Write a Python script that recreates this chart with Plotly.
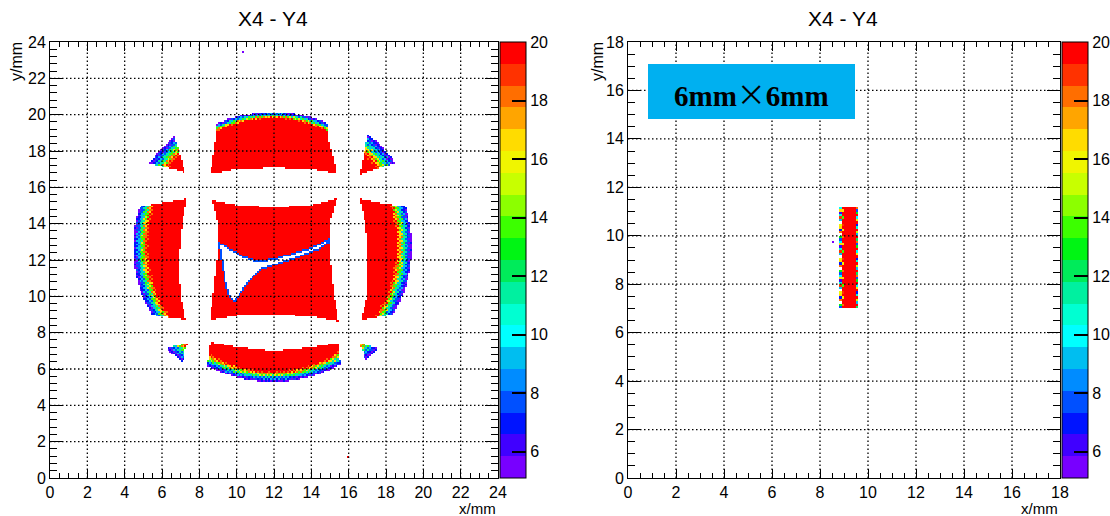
import numpy as np
import plotly.graph_objects as go

W, H = 1110, 516

# ---------------------------------------------------------------- left panel data
LEFT_RANGE = (0.0, 24.0)
LEFT_BIN = 0.1
LEFT_TICKS = [0, 2, 4, 6, 8, 10, 12, 14, 16, 18, 20, 22, 24]

# beam envelope (mm): red core ellipse and outer reach of the speckled fringe
CORE_CENTER = (11.9, 12.83)
CORE_SEMI = (6.64, 6.94)
HALO_CENTER = (11.92, 12.72)
HALO_SEMI = (7.47, 7.42)
FRINGE_LEVELS = [20.0, 18.5, 16.5, 14.0, 11.5, 9.5, 8.0, 6.8, 5.8]
DITHER = [[0, 8, 2, 10], [12, 4, 14, 6], [3, 11, 1, 9], [15, 7, 13, 5]]  # ordered speckle
DITHER_SPREAD = 3.0

# column boundaries x(y): right edge of left column (L1), edges of centre column (L2, L3),
# left edge of right column (L4)
COL_Y = [5.0, 7.0, 7.45, 8.1, 8.7, 10.0, 12.0, 13.0, 14.0, 15.35, 16.05, 16.8, 18.5, 20.0]
COL_L1 = [7.0, 7.2, 7.4, 7.35, 7.28, 6.98, 6.9, 6.98, 7.08, 7.33, 7.3, 7.25, 6.75, 6.4]
COL_L2 = [8.3, 8.5, 8.57, 8.56, 8.55, 8.73, 8.95, 9.03, 9.0, 8.7, 8.63, 8.6, 8.85, 9.0]
COL_L3 = [15.7, 15.5, 15.49, 15.47, 15.45, 15.22, 15.02, 15.02, 14.95, 15.37, 15.37, 15.36, 14.95, 14.8]
COL_L4 = [17.3, 16.75, 16.55, 16.6, 16.65, 17.0, 17.05, 17.0, 16.9, 16.6, 16.6, 16.6, 16.95, 17.3]

# row boundaries y(x): bottom of top row (T1), edges of middle row (T2, T3), top of bottom row (T4)
ROW_X = [4.0, 5.7, 7.3, 7.95, 8.6, 10.0, 12.0, 14.0, 15.4, 16.0, 16.6, 18.0, 20.0]
ROW_T1 = [17.6, 17.23, 16.81, 16.78, 16.75, 17.0, 17.07, 17.0, 16.77, 16.75, 16.72, 17.2, 17.6]
ROW_T2 = [14.8, 15.1, 15.36, 15.33, 15.3, 15.03, 14.9, 15.03, 15.39, 15.37, 15.36, 15.1, 14.8]
ROW_T3 = [9.2, 8.95, 8.7, 8.7, 8.69, 8.95, 9.0, 8.91, 8.64, 8.66, 8.68, 8.95, 9.2]
ROW_T4 = [6.7, 7.0, 7.43, 7.46, 7.48, 7.22, 7.0, 7.2, 7.43, 7.43, 7.43, 7.0, 6.7]

# reach of the red core and of the fringe in each of the 3x3 cells (rows top->bottom)
CELL_CORE_SCALE = [[1.03, 1.0, 1.03],
                   [1.0, 1.0, 1.0],
                   [1.04, 1.0, 1.04]]
CELL_HALO_SCALE = [[1.08, 1.0, 1.08],
                   [1.0, 1.0, 1.0],
                   [1.07, 1.0, 1.07]]

# tear inside the central block (outer outline incl. its thin rim of low counts)
HOLE_X = [9.02, 9.64, 10.36, 11.0, 11.91, 12.91, 14.0, 14.82, 15.05, 15.09, 14.36, 13.27,
          12.18, 11.27, 10.73, 10.27, 9.91, 9.6, 9.36, 9.18, 9.05]
HOLE_Y = [13.0, 12.64, 12.22, 12.0, 12.07, 12.36, 12.69, 13.09, 13.36, 13.0, 12.55, 12.09,
          11.76, 11.45, 10.91, 10.18, 9.67, 9.91, 10.73, 11.82, 12.64]
HOLE_RIM_LEVEL = 7.6

LEFT_STRAY = [(15.97, 1.1, 20.0), (10.33, 23.45, 5.6)]

# ---------------------------------------------------------------- right panel data
RIGHT_RANGE = (0.0, 18.0)
RIGHT_BIN = 0.1
RIGHT_TICKS = [0, 2, 4, 6, 8, 10, 12, 14, 16, 18]
BAR_Y = (7.0, 11.2)
BAR_COLS = [8.85, 8.95, 9.05, 9.15, 9.25, 9.35, 9.45, 9.55]
BAR_OUTER_LEFT = [8, 13, None, 18, 7, 17, 16, None, 9, 19, 11, 6, 17, 10]
BAR_INNER_LEFT = [20, 18, 20, 20, 16, 20, 19, 20, 20, 14, 20, 20, 17, 20]
BAR_RIGHT = [12, 20, 9, 15, 20, 11, 7, 20, 16, 10, 20, 13, 8, 18]
RIGHT_STRAY = [(8.6, 9.75, 5.6)]

# ---------------------------------------------------------------- palette (20 contours)
ZMIN, ZMAX = 5.1, 20.0
PALETTE = ["#7800ff", "#4000ff", "#0014ff", "#0050ff", "#008cff", "#00bef0",
           "#00ffff", "#00ffd2", "#00f0a0", "#00eb5a", "#00f514", "#3cff00",
           "#8cff00", "#c8ff00", "#f0f500", "#ffdc00", "#ffa500", "#ff6e00",
           "#ff3200", "#ff0000"]
CBAR_TICKS = [6, 8, 10, 12, 14, 16, 18, 20]


def inside(px, py, vx, vy):
    res = np.zeros(px.shape, dtype=bool)
    n = len(vx)
    j = n - 1
    for i in range(n):
        xi, yi, xj, yj = vx[i], vy[i], vx[j], vy[j]
        cross = (yi > py) != (yj > py)
        xint = (xj - xi) * (py - yi) / ((yj - yi) if yj != yi else 1e-12) + xi
        res ^= cross & (px < xint)
        j = i
    return res


def erode(m):
    out = m.copy()
    for sh, ax in ((1, 0), (-1, 0), (1, 1), (-1, 1)):
        out &= np.roll(m, sh, axis=ax)
    return out


def left_grid():
    c = np.arange(LEFT_RANGE[0], LEFT_RANGE[1], LEFT_BIN) + LEFT_BIN / 2
    X, Y = np.meshgrid(c, c)
    l1 = np.interp(Y, COL_Y, COL_L1)
    l2 = np.interp(Y, COL_Y, COL_L2)
    l3 = np.interp(Y, COL_Y, COL_L3)
    l4 = np.interp(Y, COL_Y, COL_L4)
    t1 = np.interp(X, ROW_X, ROW_T1)
    t2 = np.interp(X, ROW_X, ROW_T2)
    t3 = np.interp(X, ROW_X, ROW_T3)
    t4 = np.interp(X, ROW_X, ROW_T4)
    col = np.full(X.shape, -1)
    col[X < l1] = 0
    col[(X > l2) & (X < l3)] = 1
    col[X > l4] = 2
    row = np.full(X.shape, -1)
    row[Y > t1] = 0
    row[(Y < t2) & (Y > t3)] = 1
    row[Y < t4] = 2
    valid = (col >= 0) & (row >= 0)
    cscale = np.array(CELL_CORE_SCALE)[row.clip(0), col.clip(0)]
    hscale = np.array(CELL_HALO_SCALE)[row.clip(0), col.clip(0)]
    rc = np.hypot((X - CORE_CENTER[0]) / (CORE_SEMI[0] * cscale),
                  (Y - CORE_CENTER[1]) / (CORE_SEMI[1] * cscale))
    rh = np.hypot((X - HALO_CENTER[0]) / (HALO_SEMI[0] * hscale),
                  (Y - HALO_CENTER[1]) / (HALO_SEMI[1] * hscale))
    z = np.full(X.shape, np.nan)
    core = valid & (rc <= 1)
    z[core] = 20.0
    fr = valid & (rc > 1) & (rh <= 1)
    u = (1 - 1 / rc[fr]) / np.maximum(1 / rh[fr] - 1 / rc[fr], 1e-6)
    n = len(FRINGE_LEVELS)
    ii, jj = np.nonzero(fr)
    d = np.array(DITHER, dtype=float)[ii % 4, jj % 4] / 16.0 - 0.5
    idx = np.clip(np.floor(u * n + d * DITHER_SPREAD).astype(int), 0, n - 1)
    z[fr] = np.array(FRINGE_LEVELS)[idx]
    mid = valid & (row == 1) & (col == 1)
    m0 = inside(X, Y, HOLE_X, HOLE_Y) & mid
    m1 = erode(m0)
    z[m0 & ~m1] = HOLE_RIM_LEVEL
    z[m1] = np.nan
    for sx, sy, sv in LEFT_STRAY:
        i = int((sy - LEFT_RANGE[0]) / LEFT_BIN)
        j = int((sx - LEFT_RANGE[0]) / LEFT_BIN)
        z[i, j] = sv
    return c, c, z


def right_grid():
    c = np.arange(RIGHT_RANGE[0], RIGHT_RANGE[1], RIGHT_BIN) + RIGHT_BIN / 2
    z = np.full((len(c), len(c)), np.nan)
    rows = [i for i, v in enumerate(c) if BAR_Y[0] < v < BAR_Y[1]]
    cols = [int(round((v - RIGHT_BIN / 2) / RIGHT_BIN)) for v in BAR_COLS]
    for k, i in enumerate(rows):
        a = BAR_OUTER_LEFT[k % len(BAR_OUTER_LEFT)]
        b = BAR_INNER_LEFT[k % len(BAR_INNER_LEFT)]
        r = BAR_RIGHT[k % len(BAR_RIGHT)]
        z[i, cols[0]] = np.nan if a is None else a
        z[i, cols[1]] = b
        for j in cols[2:-1]:
            z[i, j] = 20.0
        z[i, cols[-1]] = r
    for sx, sy, sv in RIGHT_STRAY:
        z[int(sy / RIGHT_BIN), int(sx / RIGHT_BIN)] = sv
    return c, c, z


def colorscale():
    n = len(PALETTE)
    cs = []
    for i, col in enumerate(PALETTE):
        cs.append([i / n, col])
        cs.append([(i + 1) / n, col])
    return cs


# ---------------------------------------------------------------- layout geometry (pixels)
FRAME_TOP, FRAME_BOT = 42, 478
PANELS = [
    dict(x0=50, x1=498, cb=500, xr=LEFT_RANGE, ticks=LEFT_TICKS, yminor=0.4, xa="x", ya="y",
         title_x=273, ylab_x=17),
    dict(x0=628, x1=1060, cb=1062, xr=RIGHT_RANGE, ticks=RIGHT_TICKS, yminor=0.5, xa="x2", ya="y2",
         title_x=843, ylab_x=598),
]

FONT = "Liberation Sans, Arial, sans-serif"
fig = go.Figure()

grids = [left_grid(), right_grid()]
cs = colorscale()
ymid = 1 - (FRAME_TOP + FRAME_BOT) / 2 / H
for p, (gx, gy, gz) in zip(PANELS, grids):
    fig.add_trace(go.Heatmap(
        x=gx, y=gy, z=gz, zmin=ZMIN, zmax=ZMAX, colorscale=cs, zsmooth=False,
        xaxis=p["xa"], yaxis=p["ya"], hoverinfo="skip",
        colorbar=dict(
            x=p["cb"] / W, xanchor="left", xpad=0, ypad=0,
            y=ymid, yanchor="middle", len=(FRAME_BOT - FRAME_TOP) / H, lenmode="fraction",
            thickness=26, thicknessmode="pixels",
            outlinewidth=1, outlinecolor="black",
            tickmode="array", tickvals=CBAR_TICKS, ticks="inside", ticklen=14,
            tickwidth=1.5, tickcolor="black",
            tickfont=dict(family=FONT, size=16, color="black"),
        ),
    ))

ydom = [1 - FRAME_BOT / H, 1 - FRAME_TOP / H]
for k, p in enumerate(PANELS):
    sfx = "" if k == 0 else str(k + 1)
    xdom = [p["x0"] / W, p["x1"] / W]
    common = dict(showline=True, linecolor="black", linewidth=1, mirror="ticks",
                  ticks="inside", tickcolor="black", tickwidth=1,
                  showgrid=False, zeroline=False, tickmode="array", tickvals=p["ticks"],
                  tickfont=dict(family=FONT, size=16, color="black"), range=list(p["xr"]),
                  fixedrange=True)
    fig.layout["xaxis" + sfx] = dict(common, domain=xdom, anchor="y" + sfx, ticklen=9,
                                     minor=dict(ticks="inside", ticklen=5, dtick=0.5,
                                                tickcolor="black", showgrid=False))
    fig.layout["yaxis" + sfx] = dict(common, domain=ydom, anchor="x" + sfx, ticklen=13,
                                     minor=dict(ticks="inside", ticklen=7, dtick=p["yminor"],
                                                tickcolor="black", showgrid=False))
    # dotted grid drawn above the histogram, at the major tick positions
    for t in p["ticks"][1:-1]:
        fig.add_shape(type="line", xref=p["xa"], yref=p["ya"] + " domain", x0=t, x1=t, y0=0, y1=1,
                      line=dict(color="black", width=1.3, dash="1.5px,2.5px"), layer="above")
        fig.add_shape(type="line", xref=p["xa"] + " domain", yref=p["ya"], x0=0, x1=1, y0=t, y1=t,
                      line=dict(color="black", width=1.3, dash="1.5px,2.5px"), layer="above")
    fig.add_annotation(text="X4 - Y4", xref="paper", yref="paper", x=p["title_x"] / W,
                       y=1 - 19 / H, showarrow=False, xanchor="center", yanchor="middle",
                       font=dict(family=FONT, size=21, color="black"))
    fig.add_annotation(text="x/mm", xref="paper", yref="paper", x=p["x1"] / W,
                       y=1 - 508.5 / H, showarrow=False, xanchor="right", yanchor="middle",
                       font=dict(family=FONT, size=15, color="black"))
    fig.add_annotation(text="y/mm", xref="paper", yref="paper", x=p["ylab_x"] / W,
                       y=1 - 62 / H, showarrow=False, xanchor="center", yanchor="middle",
                       textangle=-90, font=dict(family=FONT, size=16, color="black"))

# "6mm x 6mm" label box on the right panel
fig.add_shape(type="rect", xref="paper", yref="paper", x0=648 / W, x1=855 / W,
              y0=1 - 119 / H, y1=1 - 64 / H, fillcolor="#00b0f0", line=dict(width=0),
              layer="above")
fig.add_annotation(text="<b>6mm</b><span style=\"font-family:Noto Sans CJK SC\">×</span><b>6mm</b>",
                   xref="paper", yref="paper", x=751 / W, y=1 - 93 / H, showarrow=False,
                   xanchor="center", yanchor="middle",
                   font=dict(family="Liberation Serif, Times New Roman, serif", size=29,
                             color="black"))

fig.update_layout(
    width=W, height=H,
    margin=dict(l=0, r=0, t=0, b=0, autoexpand=False),
    paper_bgcolor="white", plot_bgcolor="white",
    showlegend=False,
)

fig.write_html("out.html")
